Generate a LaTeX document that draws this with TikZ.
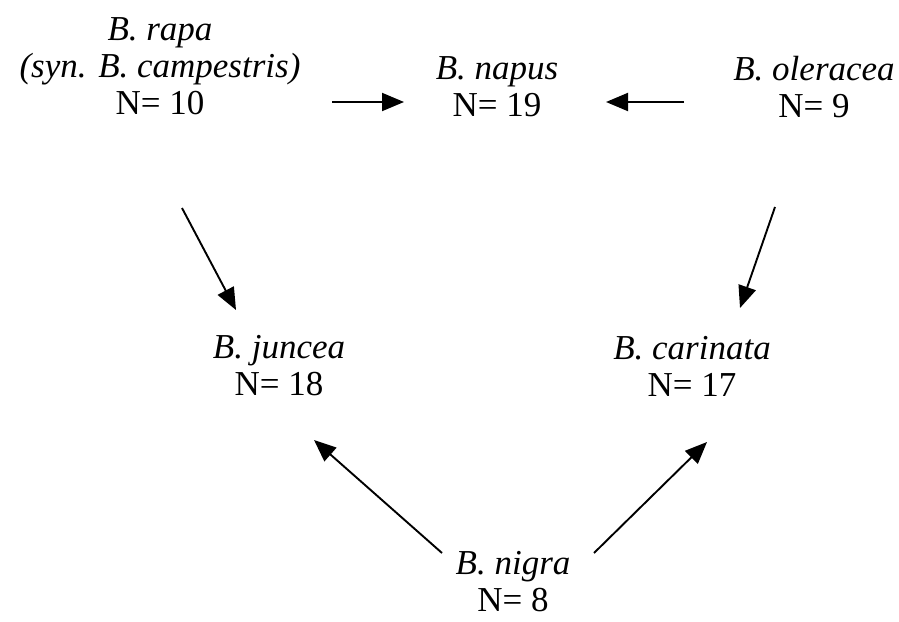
\documentclass[tikz,border=0pt]{standalone}
\usepackage{fontspec}
\setmainfont{Liberation Serif}
\usetikzlibrary{arrows.meta}
\begin{document}
\begin{tikzpicture}[x=1pt,y=-1pt,
  sp/.style={align=center,inner sep=0pt,font=\fontsize{35}{37}\selectfont},
  arr/.style={line width=1.9pt,-{Triangle[length=22pt,width=18pt]}}]
\useasboundingbox (0,0) rectangle (899,621);
\node[sp] (rapa) at (160,66) {\textit{B. rapa}\\\textit{(syn. B. campestris)}\\N= 10};
\node[sp] (napus) at (497,87) {\textit{B. napus}\\N= 19};
\node[sp] (oleracea) at (814,87) {\textit{B. oleracea}\\N= 9};
\node[sp] (juncea) at (279,366) {\textit{B. juncea}\\N= 18};
\node[sp] (carinata) at (692,366) {\textit{B. carinata}\\N= 17};
\node[sp] (nigra) at (513,582) {\textit{B. nigra}\\N= 8};
\coordinate (rn1) at (332,102); \coordinate (rn2) at (404,102);
\coordinate (on1) at (684,102); \coordinate (on2) at (606,102);
\coordinate (rj1) at (182,208); \coordinate (rj2) at (236,310);
\coordinate (oc1) at (775,207); \coordinate (oc2) at (740,308);
\coordinate (nj1) at (442,553); \coordinate (nj2) at (314,440);
\coordinate (nc1) at (594,553); \coordinate (nc2) at (707,442);
\draw[arr] (rn1) -- (rn2);
\draw[arr] (on1) -- (on2);
\draw[arr] (rj1) -- (rj2);
\draw[arr] (oc1) -- (oc2);
\draw[arr] (nj1) -- (nj2);
\draw[arr] (nc1) -- (nc2);
\end{tikzpicture}
\end{document}
